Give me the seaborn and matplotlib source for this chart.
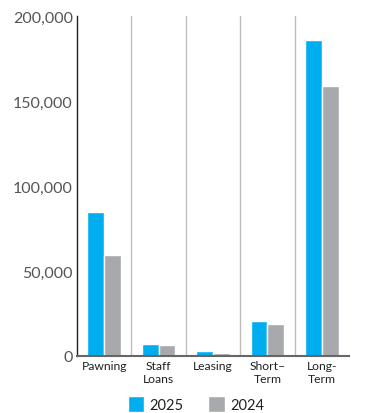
import matplotlib
matplotlib.use("Agg")
import matplotlib.pyplot as plt
import seaborn as sns
import pandas as pd
from matplotlib.ticker import FuncFormatter

categories = ["Pawning", "Staff\nLoans", "Leasing", "Short–\nTerm", "Long-\nTerm"]
values_2025 = [85000, 7200, 3000, 20500, 186000]
values_2024 = [59500, 6600, 1600, 18800, 159000]
years = ["2025", "2024"]
palette = {"2025": "#00AEEF", "2024": "#A7A9AC"}
yticks = [0, 50000, 100000, 150000, 200000]

df = pd.DataFrame({
    "category": categories * 2,
    "year": [years[0]] * len(categories) + [years[1]] * len(categories),
    "value": values_2025 + values_2024,
})

sns.set_theme(style="white")
plt.rcParams["font.family"] = ["Lato", "DejaVu Sans"]

fig = plt.figure(figsize=(3.71, 4.14), dpi=100)
ax = fig.add_axes([77 / 371, 1 - 357 / 414, (349 - 77) / 371, (357 - 17) / 414])

sns.barplot(data=df, x="category", y="value", hue="year", palette=palette,
            hue_order=years, order=categories, width=0.62, saturation=1,
            ax=ax, legend=True)

ax.set_ylim(0, 200000)
ax.set_xlim(-0.5, len(categories) - 0.5)
ax.set_yticks(yticks)
ax.yaxis.set_major_formatter(FuncFormatter(lambda v, _: f"{int(v):,}"))
ax.tick_params(axis="y", labelsize=11.5, colors="#555555", length=0, pad=3)
ax.tick_params(axis="x", labelsize=8.7, colors="#222222", length=0, pad=3)
for lbl in ax.get_xticklabels():
    lbl.set_linespacing(1.25)
ax.set_xlabel("")
ax.set_ylabel("")

# separators between categories
for i in range(1, len(categories)):
    ax.axvline(i - 0.5, color="#BDBDBD", lw=1.0, zorder=0)

for side in ["top", "right"]:
    ax.spines[side].set_visible(False)
ax.spines["left"].set_color("#222222")
ax.spines["left"].set_linewidth(1.0)
ax.spines["bottom"].set_color("#666666")
ax.spines["bottom"].set_linewidth(1.5)

handles, labels = ax.get_legend_handles_labels()
ax.get_legend().remove()
fig.legend(handles, labels, loc="center", bbox_to_anchor=(196 / 371, 1 - 405 / 414),
           ncol=2, frameon=False, fontsize=10.5, handlelength=1.15, handleheight=1.25,
           columnspacing=1.7, handletextpad=0.35, borderpad=0,
           labelcolor="#222222")

fig.savefig("out.png", dpi=100)
